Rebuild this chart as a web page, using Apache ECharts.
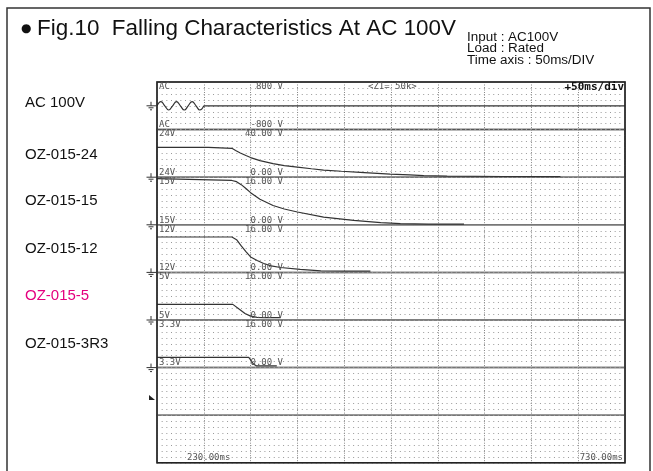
<!DOCTYPE html>
<html><head><meta charset="utf-8">
<script src="https://cdn.jsdelivr.net/npm/echarts@6/dist/echarts.min.js"></script>
<style>html,body{margin:0;padding:0;background:#fff}#c{width:653px;height:471px}</style>
</head><body><div id="c"></div><script>
// ---- data ----
const rowLabels = ['AC 100V', 'OZ-015-24', 'OZ-015-15', 'OZ-015-12', 'OZ-015-5', 'OZ-015-3R3'];
const chNames = ['AC', '24V', '15V', '12V', '5V', '3.3V'];
const scaleTop = ['800 V', '40.00 V', '16.00 V', '16.00 V', '16.00 V', '16.00 V'];
const scaleBottom = ['-800 V', '0.00 V', '0.00 V', '0.00 V', '0.00 V', '0.00 V'];
const bandMin = [-800, 0, 0, 0, 0, 0, 0, 0];
const bandMax = [800, 40, 16, 16, 16, 16, 16, 16];
const timeMin = 230, timeMax = 730, timeDiv = 50;
const timeLabels = ['230.00ms', '730.00ms'];

const acWaveT = [230, 234.2, 238.3, 242.5, 246.7, 250.8, 255, 259.2, 263.3, 267.5, 271.7, 275.8, 280];
const acWaveV = [0, 141, 0, -141, 0, 141, 0, -141, 0, 141, 0, -141, 0];
const acOffT = [280, 730];
const acOffV = [0, 0];

const t24 = [230, 285, 287, 310, 314, 319, 325, 330, 340, 354, 366, 380, 395, 408, 427, 447, 479, 500, 515, 540, 600, 661];
const v24 = [25.0, 25.0, 24.4, 24.3, 22.5, 20.4, 18.2, 16.5, 13.9, 11.4, 9.8, 8.5, 7.1, 6.0, 5.0, 4.1, 2.6, 1.9, 1.4, 0.9, 0.6, 0.5];

const t15 = [230, 310, 315, 320, 325, 330, 340, 354, 366, 380, 408, 440, 469, 490, 520, 558];
const v15 = [15.5, 14.9, 14.5, 13.5, 12.2, 10.8, 8.6, 6.5, 5.3, 4.3, 2.6, 1.5, 0.75, 0.4, 0.25, 0.2];

const t12 = [230, 310, 315, 320, 325, 330, 337, 344, 352, 362, 383, 405, 430, 458];
const v12 = [11.9, 11.9, 11.0, 8.9, 7.0, 5.2, 4.0, 3.0, 2.2, 1.65, 1.0, 0.5, 0.4, 0.4];

const t5 = [230, 311, 318, 324, 330, 337, 344, 362];
const v5 = [5.25, 5.25, 3.6, 2.2, 1.3, 0.9, 0.8, 0.8];

const t33 = [230, 328, 330, 333, 336, 358];
const v33 = [3.45, 3.45, 2.6, 1.2, 0.6, 0.55];

// ---- layout ----
const L = 157, R = 625, TOP = 82, BH = 47.6, NB = 8;
const zip = (a, b) => a.map((t, i) => [t, b[i]]);

const grids = [], xAxes = [], yAxes = [];
for (let i = 0; i < NB; i++) {
  grids.push({ left: L, width: R - L, top: TOP + i * BH, height: BH, show: true,
    borderColor: i === 1 ? '#555' : '#777', borderWidth: 1.5, backgroundColor: 'transparent' });
  xAxes.push({ type: 'value', gridIndex: i, min: timeMin, max: timeMax, interval: timeDiv,
    axisLine: { show: false }, axisTick: { show: false }, axisLabel: { show: false },
    splitLine: { show: true, lineStyle: { color: '#888', width: 1, type: [1, 1.5] } } });
  yAxes.push({ type: 'value', gridIndex: i, min: bandMin[i], max: bandMax[i],
    interval: (bandMax[i] - bandMin[i]) / 8,
    axisLine: { show: false }, axisTick: { show: false }, axisLabel: { show: false },
    splitLine: { show: true, lineStyle: { color: '#999', width: 1, type: [1, 3.67] } } });
}

const trace = (idx, data, smooth) => ({
  type: 'line', xAxisIndex: idx, yAxisIndex: idx, data, showSymbol: false, smooth: smooth || false,
  lineStyle: { color: '#333', width: 1.2 }, silent: true, z: 5
});
const series = [
  trace(0, zip(acWaveT, acWaveV), 0.5),
  trace(0, zip(acOffT, acOffV)),
  trace(1, zip(t24, v24)),
  trace(2, zip(t15, v15)),
  trace(3, zip(t12, v12)),
  trace(4, zip(t5, v5)),
  trace(5, zip(t33, v33))
];

// ---- text & decorations ----
const g = [];
function txt(x, y, s, font, fill, align, va, sx) {
  const el = { type: 'text', z: 100, silent: true,
    style: { x, y, text: s, font, fill, align: align || 'left', textAlign: align || 'left',
      verticalAlign: va || 'middle', textVerticalAlign: va || 'middle' } };
  if (sx) { el.scaleX = sx; el.originX = x; el.originY = y; }
  g.push(el);
}
function seg(x1, y1, x2, y2, w, c) {
  g.push({ type: 'line', z: 100, silent: true, shape: { x1, y1, x2, y2 },
    style: { stroke: c || '#333', lineWidth: w || 1 } });
}
function ground(y) {
  seg(151, y - 4, 151, y);
  seg(146.5, y, 156, y);
  seg(148.5, y + 2, 153.5, y + 2);
  seg(150, y + 4, 152, y + 4);
}

// outer frame
g.push({ type: 'rect', z: 90, silent: true, shape: { x: 7, y: 8, width: 643, height: 480 },
  style: { fill: 'none', stroke: '#333', lineWidth: 1.5 } });
// screen frame
g.push({ type: 'rect', z: 90, silent: true, shape: { x: L, y: TOP, width: R - L, height: BH * NB },
  style: { fill: 'none', stroke: '#222', lineWidth: 1.5 } });

// title
txt(21, 29, '●', '12px "DejaVu Sans"', '#111', 'left', 'middle');
txt(37, 29, 'Fig.10  Falling Characteristics At AC 100V', '22px "Liberation Sans", Arial', '#111', 'left', 'middle', 1.02);
const info = ['Input : AC100V', 'Load : Rated', 'Time axis : 50ms/DIV'];
info.forEach((s, i) => txt(467, 37.5 + i * 11.5, s, '12px "Liberation Sans", Arial', '#111', 'left', 'middle', 1.12));

// row labels
const rowY = [103, 155, 201, 249, 296, 344];
rowLabels.forEach((s, i) => txt(25, rowY[i], s, '15px "Liberation Sans", Arial', i === 4 ? '#e4007f' : '#111', 'left', 'middle'));

// screen labels
const mono = '9px "DejaVu Sans Mono", monospace';
for (let i = 0; i < chNames.length; i++) {
  const top = TOP + i * BH, bot = top + BH;
  txt(159, top + 4.5, chNames[i], mono, '#555');
  txt(283, top + 4.5, scaleTop[i], mono, '#555', 'right');
  txt(159, bot - 4.5, chNames[i], mono, '#555');
  txt(283, bot - 4.5, scaleBottom[i], mono, '#555', 'right');
}
txt(368, TOP + 4.5, '<Z1= 50k>', mono, '#555');
txt(624, TOP + 5, '+50ms/div', 'bold 11px "DejaVu Sans Mono", monospace', '#111', 'right');
txt(187, TOP + BH * NB - 5.5, timeLabels[0], mono, '#555');
txt(623, TOP + BH * NB - 5.5, timeLabels[1], mono, '#555', 'right');

// ground symbols and trigger mark
ground(TOP + BH / 2);
for (let i = 1; i <= 5; i++) ground(TOP + BH * (i + 1));
g.push({ type: 'polygon', z: 100, silent: true, shape: { points: [[149, 395], [155, 400], [149, 400]] },
  style: { fill: '#222' } });

const chart = echarts.init(document.getElementById('c'), null, { renderer: 'canvas' });
chart.setOption({
  animation: false,
  backgroundColor: '#fff',
  grid: grids, xAxis: xAxes, yAxis: yAxes, series, graphic: g
});
</script></body></html>
